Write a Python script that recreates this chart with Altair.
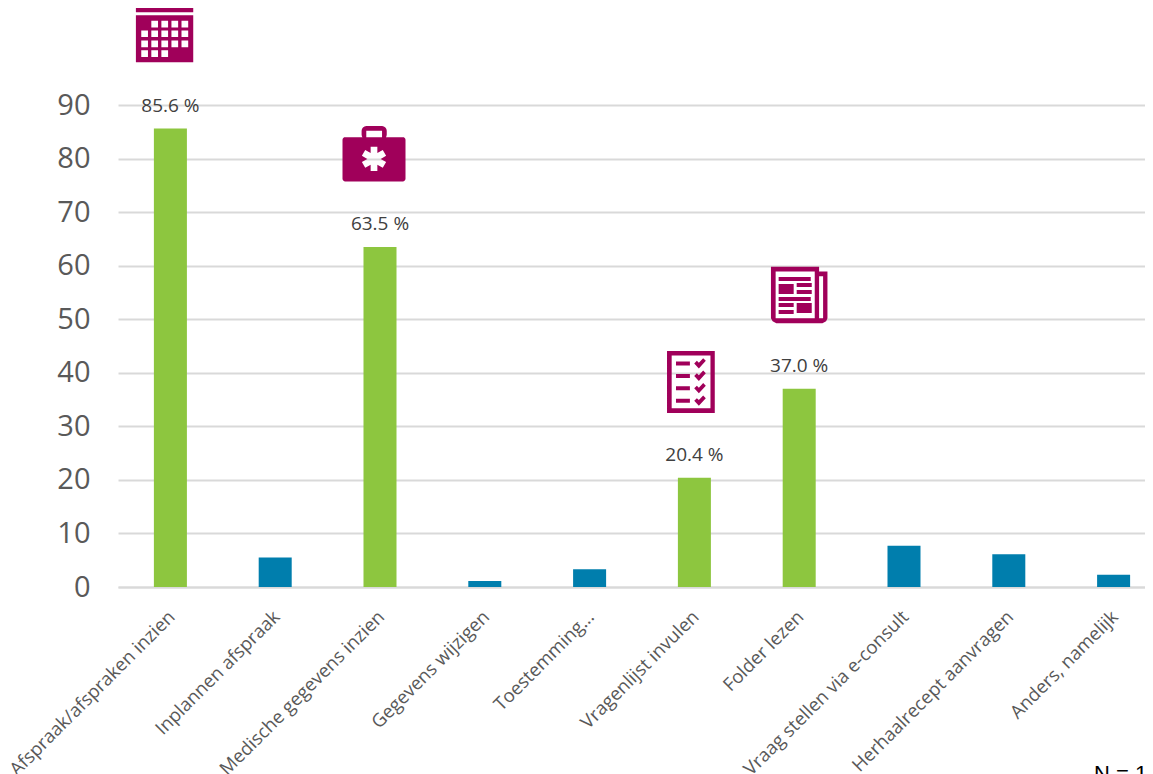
import math
import altair as alt
import pandas as pd

categories = ["Afspraak/afspraken inzien", "Inplannen afspraak", "Medische gegevens inzien",
              "Gegevens wijzigen", "Toestemming...", "Vragenlijst invulen", "Folder lezen",
              "Vraag stellen via e-consult", "Herhaalrecept aanvragen", "Anders, namelijk"]
values = [85.6, 5.5, 63.5, 1.1, 3.3, 20.4, 37.0, 7.7, 6.1, 2.3]
highlighted = [True, False, True, False, False, True, True, False, False, False]
value_labels = ["85.6 %", "", "63.5 %", "", "", "20.4 %", "37.0 %", "", "", ""]
icon_levels = [103.3, 0, 80.9, 0, 0, 38.3, 54.5, 0, 0, 0]
footnote = "N = 1"

GREEN, BLUE, PURPLE = "#8DC63F", "#007EAD", "#A0005A"
GREY_TEXT, GRID = "#595959", "#D9D9D9"


class Icon:
    def __init__(self, x0, y0, x1, y1):
        self.cx, self.cy = (x0 + x1) / 2, (y0 + y1) / 2
        self.half = max(x1 - x0, y1 - y0) / 2
        self.parts = []

    def poly(self, pts, hole=False):
        pts = list(reversed(pts)) if hole else pts
        s = "M" + " L".join(
            f"{(x - self.cx) / self.half:.4f},{(y - self.cy) / self.half:.4f}" for x, y in pts) + " Z"
        self.parts.append(s)

    def rect(self, x, y, w, h, hole=False):
        self.poly([(x, y), (x + w, y), (x + w, y + h), (x, y + h)], hole)

    def rrect(self, x0, y0, x1, y1, r, hole=False):
        pts = []
        corners = [(x1 - r, y0 + r, -90), (x1 - r, y1 - r, 0), (x0 + r, y1 - r, 90), (x0 + r, y0 + r, 180)]
        for cx, cy, a in corners:
            for k in range(5):
                t = math.radians(a + k * 22.5)
                pts.append((cx + r * math.cos(t), cy + r * math.sin(t)))
        self.poly(pts, hole)

    @property
    def path(self):
        return " ".join(self.parts)


# calendar
cal = Icon(48, 18, 218, 188)
cal.rect(48, 18, 171, 21)
cal.rect(48, 48, 171, 140)
rows = [(64, [1, 2, 3, 4]), (93, [0, 1, 2, 3, 4]), (123, [0, 1, 2, 3, 4]), (152, [0, 1, 2])]
for yy, cols in rows:
    for c in cols:
        cal.rect(64 + 30 * c, yy, 20, 20, hole=True)

# medical case
case = Icon(667, 380, 855, 545)
case.rrect(667, 413, 855, 545, 8)
case.rrect(724, 380, 799, 420, 14)
case.rect(738, 394, 47, 19, hole=True)
star = []
cx0, cy0, arm, w = 761, 478, 36, 10
for i in range(6):
    a = math.radians(-90 + 60 * i)
    ux, uy = math.cos(a), math.sin(a)
    nx, ny = -uy, ux
    star.append((cx0 + arm * ux - w * nx, cy0 + arm * uy - w * ny))
    star.append((cx0 + arm * ux + w * nx, cy0 + arm * uy + w * ny))
    b = a + math.radians(30)
    star.append((cx0 + 20 * math.cos(b), cy0 + 20 * math.sin(b)))
case.poly(star, hole=True)

# checklist
chk = Icon(51, 288, 195, 475)
chk.rect(51, 288, 144, 187)
chk.rect(65, 302, 117, 159, hole=True)
for k in range(4):
    dy = 37.5 * k
    chk.rect(78, 320 + dy, 42, 12)
    chk.poly([(133, 326 + dy), (141, 318 + dy), (147, 324 + dy), (160, 310 + dy),
              (168, 318 + dy), (147, 341 + dy)])

# newspaper
news = Icon(364, 36, 533, 205)
news.poly([(364, 36), (508, 36), (508, 50), (533, 50), (533, 190), (529, 199), (518, 205),
           (380, 205), (369, 199), (364, 190)])
news.rect(378, 50, 117, 140, hole=True)
news.rect(508, 64, 12, 126, hole=True)
for r in [(387, 66, 96, 12), (387, 87, 45, 30), (441, 84, 45, 12), (441, 105, 45, 12),
          (387, 126, 96, 12), (387, 144, 45, 12), (441, 144, 45, 30), (387, 165, 45, 12)]:
    news.rect(*r)

icons = [(0, cal.path, 57, -6), (2, case.path, 63, -6), (5, chk.path, 62, -3.5), (6, news.path, 56.5, 0)]

df = pd.DataFrame({"category": categories, "value": values, "hl": highlighted,
                   "label": value_labels, "level": icon_levels})

x_scale = alt.Scale(domain=categories, range=[0, 1048], paddingInner=0.685, paddingOuter=0.3425, round=False)
y_scale = alt.Scale(domain=[0, 90], nice=False)
FONT = "Open Sans"

bars = alt.Chart(df).mark_bar().encode(
    x=alt.X("category:N", scale=x_scale, sort=categories, title=None,
            axis=alt.Axis(labelAngle=-45, labelFontSize=18.5, labelColor=GREY_TEXT, labelFont=FONT,
                          ticks=False, domainColor=GRID, domainWidth=2, labelPadding=20, labelOffset=-5,
                          grid=False, labelLimit=400, labelOverlap=False)),
    y=alt.Y("value:Q", scale=y_scale, title=None,
            axis=alt.Axis(values=list(range(0, 100, 10)), labelFontSize=29, labelColor=GREY_TEXT,
                          labelFont=FONT, ticks=False, domain=False, gridColor=GRID, gridWidth=2,
                          labelPadding=28)),
    color=alt.Color("hl:N", scale=alt.Scale(domain=[True, False], range=[GREEN, BLUE]), legend=None),
)

text = alt.Chart(df[df["label"] != ""]).mark_text(
    font=FONT, fontSize=19, color="#404040", baseline="middle", dy=-23
).encode(x=alt.X("category:N", scale=x_scale, sort=categories),
         y=alt.Y("value:Q", scale=y_scale), text="label:N")

layers = [bars, text]
for idx, path, px, off in icons:
    layers.append(
        alt.Chart(df.iloc[[idx]]).mark_point(
            shape=path, filled=True, size=px * px, color=PURPLE, opacity=1, strokeWidth=0, xOffset=off
        ).encode(x=alt.X("category:N", scale=x_scale, sort=categories),
                 y=alt.Y("level:Q", scale=y_scale))
    )

note = alt.Chart(pd.DataFrame({"t": [footnote]})).mark_text(
    font="Liberation Sans", fontSize=22, color="#000000", align="left", baseline="alphabetic"
).encode(x=alt.value(976), y=alt.value(676), text="t:N")
layers.append(note)

chart = alt.layer(*layers).properties(
    width=1027, height=482,
    padding={"left": 110, "top": 97, "right": 0, "bottom": 187},
    autosize=alt.AutoSizeParams(type="none"),
).configure_view(stroke=None)

chart.save("out.html", embed_options={"renderer": "svg", "actions": False})
